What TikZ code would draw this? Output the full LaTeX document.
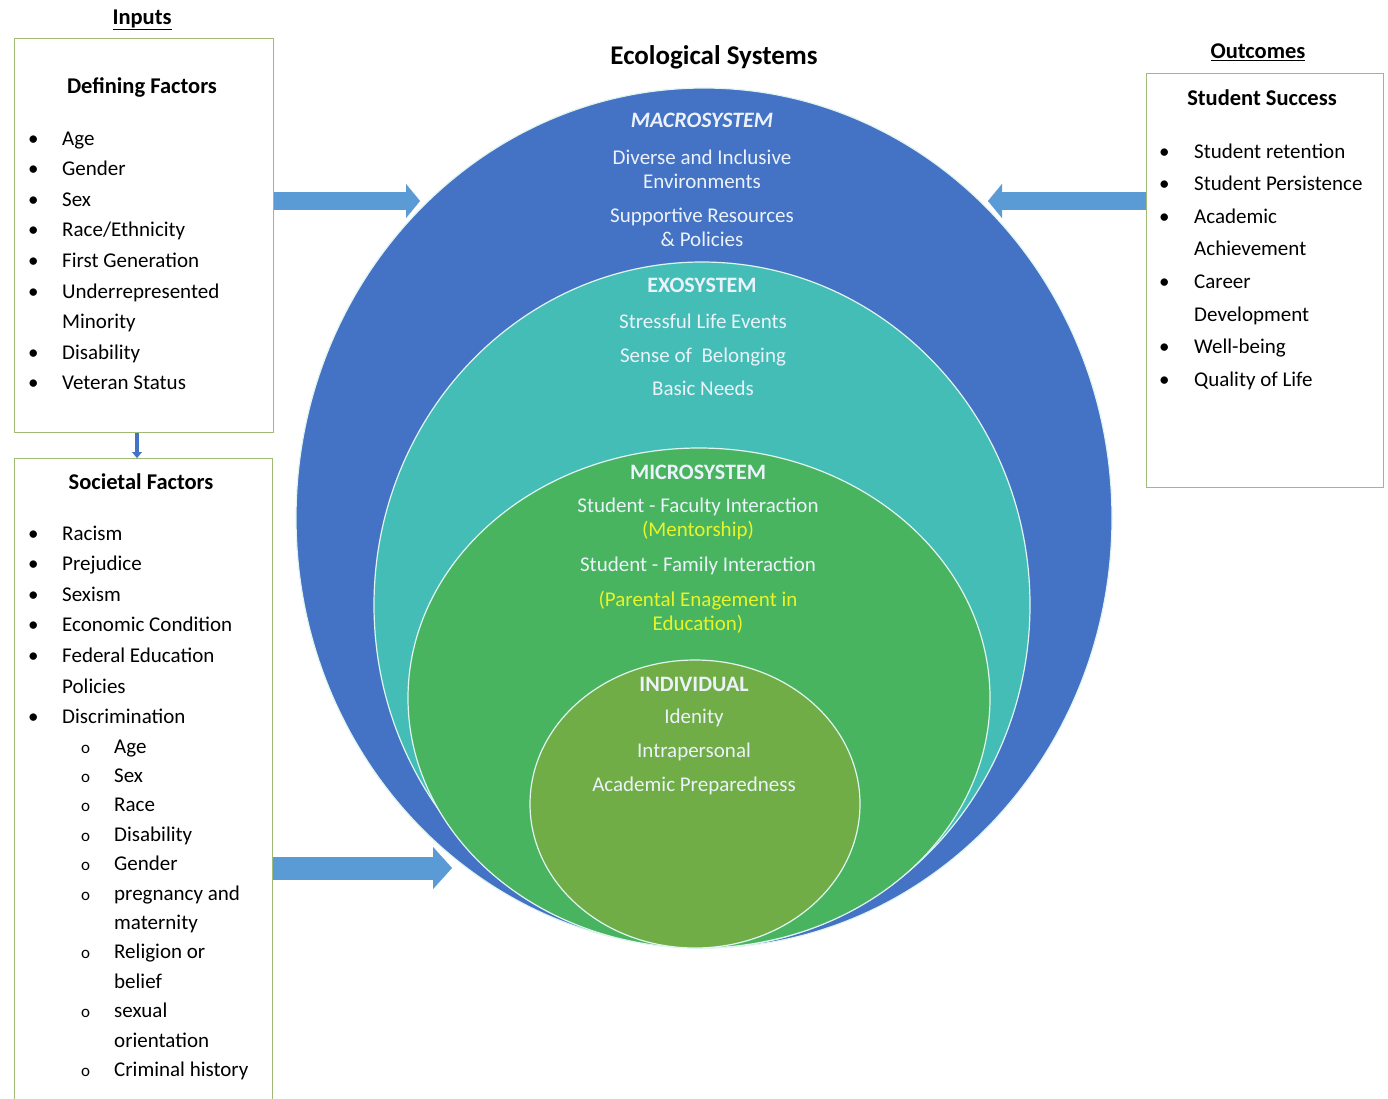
\documentclass[tikz,border=0pt]{standalone}
\usepackage{fontspec}
\setmainfont{Carlito}
\usetikzlibrary{arrows.meta,shapes.geometric}

\definecolor{macroblue}{RGB}{68,114,196}
\definecolor{exoteal}{RGB}{67,189,182}
\definecolor{microgreen}{RGB}{72,180,96}
\definecolor{indivgreen}{RGB}{112,173,71}
\definecolor{ringline}{RGB}{225,245,240}
\definecolor{paletext}{RGB}{236,242,250}
\definecolor{notegold}{RGB}{232,244,40}
\definecolor{arrowblue}{RGB}{91,155,213}
\definecolor{boxline}{RGB}{160,186,120}
\newcommand{\subbullet}{{\fontsize{17}{17}\selectfont o}}

\begin{document}
\begin{tikzpicture}[x=1pt,y=-1pt,
    ring/.style={ellipse,draw=ringline,line width=1.2pt,inner sep=0pt},
    factorbox/.style={draw=boxline,line width=1.2pt,anchor=north west,inner sep=0pt},
    heading/.style={font=\fontsize{22.5}{26}\selectfont\bfseries},
    listtext/.style={anchor=base west,inner sep=0pt,font=\fontsize{21}{30.6}\selectfont},
    ringhead/.style={text=paletext,font=\fontsize{22}{26}\selectfont\bfseries},
    ringlabel/.style={text=paletext,align=center,font=\fontsize{21}{24}\selectfont},
    bigarrow/.style={draw=arrowblue,line width=18pt,-{Triangle[length=14pt,width=34pt,line width=0.1pt]}}]
  \useasboundingbox (0,0) rectangle (1388,1098);
  \clip (0,0) rectangle (1388,1098);

  % nested systems
  \node[ring,fill=macroblue,minimum width=816,minimum height=860] (macro) at (704,518) {};
  \node[ring,fill=exoteal,minimum width=656,minimum height=686] (exo) at (702,605) {};
  \node[ring,fill=microgreen,minimum width=582,minimum height=500] (micro) at (699,698) {};
  \node[ring,fill=indivgreen,minimum width=330,minimum height=288] (indiv) at (695,804) {};

  \node[heading,font=\fontsize{27}{30}\selectfont\bfseries] (title) at (714,57) {Ecological Systems};

  \node[ringhead,font=\fontsize{22}{26}\selectfont\bfseries\itshape] (macrohead) at (702,120) {MACROSYSTEM};
  \node[ringlabel] (macroa) at (702,169) {Diverse and Inclusive\\Environments};
  \node[ringlabel] (macrob) at (702,227) {Supportive Resources\\\& Policies};
  \node[ringhead] (exohead) at (702,285) {EXOSYSTEM};
  \node[ringlabel,font=\fontsize{21}{33.5}\selectfont] (exoa) at (703,355) {Stressful Life Events\\Sense of~ Belonging\\Basic Needs};
  \node[ringhead] (microhead) at (698,472) {MICROSYSTEM};
  \node[ringlabel] (microa) at (698,519) {Student - Faculty Interaction\\\textcolor{notegold}{(Mentorship)}};
  \node[ringlabel] (microb) at (698,566) {Student - Family Interaction};
  \node[ringlabel,text=notegold] (microc) at (698,612) {(Parental Enagement in\\Education)};
  \node[ringhead] (indivhead) at (694,684) {INDIVIDUAL};
  \node[ringlabel,font=\fontsize{21}{34}\selectfont] (indiva) at (694,752) {Idenity\\Intrapersonal\\Academic Preparedness};

  % inputs
  \node[heading] (inputs) at (142,20) {\underline{Inputs}};
  \node[factorbox,minimum width=259,minimum height=394] (defbox) at (14,38) {};
  \node[heading] (defhead) at (142,87) {Defining Factors};
  \node[listtext] (deflist) at (28,145) {\begin{tabular}[t]{@{}p{34pt}@{}l@{}}
    \textbullet & Age\\
    \textbullet & Gender\\
    \textbullet & Sex\\
    \textbullet & Race/Ethnicity\\
    \textbullet & First Generation\\
    \textbullet & Underrepresented\\
                & Minority\\
    \textbullet & Disability\\
    \textbullet & Veteran Status
  \end{tabular}};

  \node[factorbox,minimum width=258,minimum height=660] (socbox) at (14,458) {};
  \node[heading] (sochead) at (141,482) {Societal Factors};
  \node[listtext] (soclist) at (28,540) {\begin{tabular}[t]{@{}p{34pt}@{}p{52pt}@{}l@{}}
    \textbullet & \multicolumn{2}{@{}l@{}}{Racism}\\
    \textbullet & \multicolumn{2}{@{}l@{}}{Prejudice}\\
    \textbullet & \multicolumn{2}{@{}l@{}}{Sexism}\\
    \textbullet & \multicolumn{2}{@{}l@{}}{Economic Condition}\\
    \textbullet & \multicolumn{2}{@{}l@{}}{Federal Education}\\
                & \multicolumn{2}{@{}l@{}}{Policies}\\
    \textbullet & \multicolumn{2}{@{}l@{}}{Discrimination}\\[-1.2pt]
    & \hspace*{19pt}\subbullet & Age\\[-1.2pt]
    & \hspace*{19pt}\subbullet & Sex\\[-1.2pt]
    & \hspace*{19pt}\subbullet & Race\\[-1.2pt]
    & \hspace*{19pt}\subbullet & Disability\\[-1.2pt]
    & \hspace*{19pt}\subbullet & Gender\\[-1.2pt]
    & \hspace*{19pt}\subbullet & pregnancy and\\[-1.2pt]
    &                          & maternity\\[-1.2pt]
    & \hspace*{19pt}\subbullet & Religion or\\[-1.2pt]
    &                          & belief\\[-1.2pt]
    & \hspace*{19pt}\subbullet & sexual\\[-1.2pt]
    &                          & orientation\\[-1.2pt]
    & \hspace*{19pt}\subbullet & Criminal history
  \end{tabular}};

  % outcomes
  \node[heading] (outcomes) at (1258,52) {\underline{Outcomes}};
  \node[factorbox,minimum width=237,minimum height=414] (outbox) at (1146,73) {};
  \node[heading] (succhead) at (1262,98) {Student Success};
  \node[listtext,font=\fontsize{21}{32.6}\selectfont] (outlist) at (1159,158) {\begin{tabular}[t]{@{}p{35pt}@{}l@{}}
    \textbullet & Student retention\\
    \textbullet & Student Persistence\\
    \textbullet & Academic\\
                & Achievement\\
    \textbullet & Career\\
                & Development\\
    \textbullet & Well-being\\
    \textbullet & Quality of Life
  \end{tabular}};

  % arrows into and out of the systems
  \coordinate (macroin) at (420,201);
  \coordinate (macrolow) at (452,868);
  \coordinate (macroout) at (988,201);
  \draw[bigarrow] (defbox.east |- macroin) -- (macroin);
  \draw[bigarrow,line width=23pt,-{Triangle[length=19pt,width=42pt,line width=0.1pt]}] (socbox.east |- macrolow) -- (macrolow);
  \draw[bigarrow] (outbox.west |- macroout) -- (macroout);
  \draw[draw=macroblue,line width=4pt,-{Triangle[length=6pt,width=10pt,line width=0.1pt]}] (defbox.south -| 137,0) -- (socbox.north -| 137,0);
\end{tikzpicture}
\end{document}
